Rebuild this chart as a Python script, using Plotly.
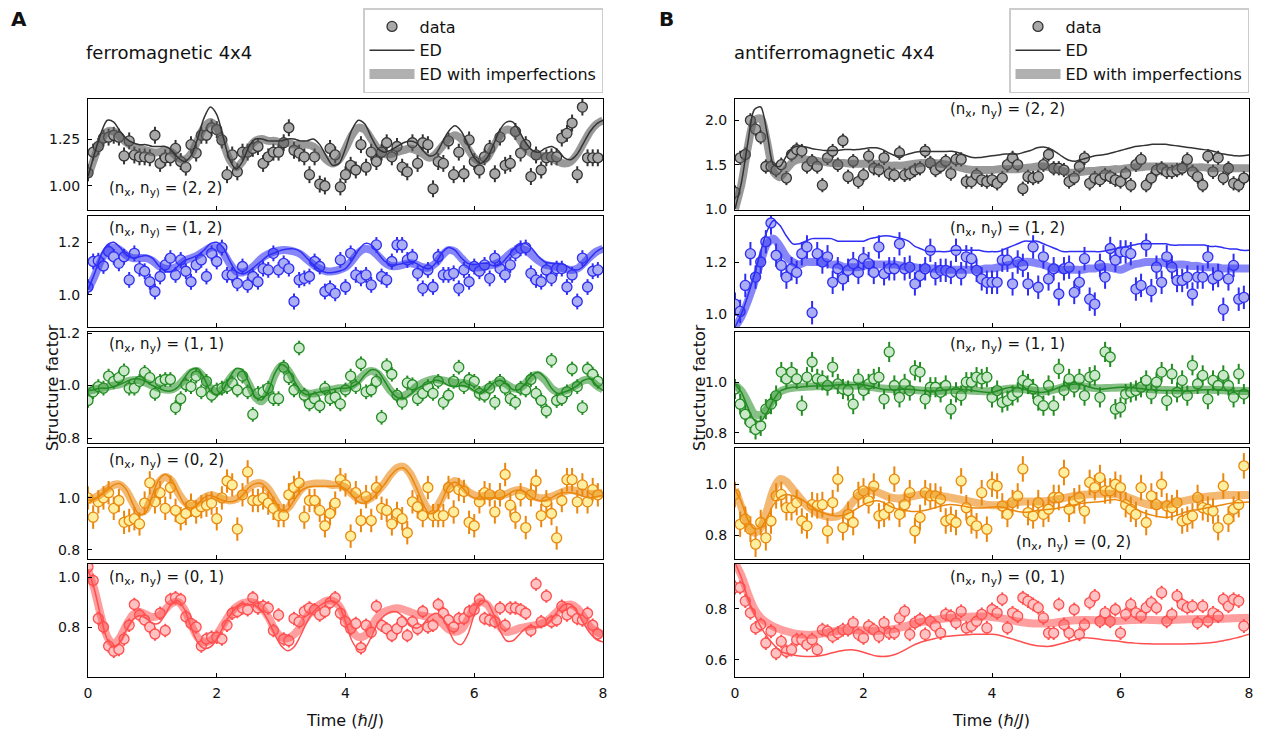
import numpy as np
import plotly.graph_objects as go

W, H = 1265, 734
OX, OY = 8, 8  # page body margin offset

# sampling times
t_data = np.round(np.arange(100) * 0.08, 2)
t_line = np.round(np.arange(81) * 0.1, 1)

# ---------------- ferromagnetic 4x4 ----------------
fm22_data = [1.07,1.18,1.21,1.255,1.26,1.27,1.26,1.16,1.24,1.165,
             1.155,1.155,1.15,1.27,1.12,1.15,1.15,1.20,1.13,1.10,
             1.22,1.175,1.27,1.27,1.31,1.30,1.245,1.06,1.165,1.075,
             1.18,1.18,1.20,1.21,1.12,1.155,1.18,1.18,1.23,1.31,
             1.19,1.175,1.155,1.06,1.155,1.01,1.00,1.20,1.165,0.995,
             1.06,1.11,1.085,1.22,1.10,1.18,1.13,1.18,1.23,1.155,
             1.21,1.10,1.075,1.23,1.12,1.23,1.22,0.985,1.13,1.12,
             1.24,1.06,1.18,1.065,1.245,1.13,1.085,1.155,1.20,1.065,
             1.26,1.11,1.12,1.29,1.175,1.22,1.05,1.165,1.085,1.15,
             1.155,1.155,1.255,1.28,1.335,1.06,1.42,1.15,1.15,1.15]
fm22_ed = [1.05,1.17,1.28,1.35,1.34,1.29,1.25,1.23,1.22,1.22,
           1.21,1.21,1.21,1.19,1.15,1.13,1.16,1.25,1.36,1.42,
           1.38,1.26,1.14,1.09,1.13,1.21,1.25,1.25,1.24,1.24,
           1.24,1.25,1.25,1.24,1.24,1.25,1.22,1.16,1.11,1.12,
           1.20,1.30,1.35,1.33,1.26,1.20,1.18,1.19,1.21,1.23,
           1.24,1.23,1.19,1.16,1.17,1.23,1.29,1.32,1.29,1.22,
           1.15,1.12,1.15,1.22,1.30,1.34,1.34,1.29,1.23,1.19,
           1.18,1.20,1.21,1.19,1.15,1.14,1.17,1.23,1.29,1.33,
           1.35]
fm22_imp = [1.05,1.15,1.24,1.29,1.29,1.26,1.23,1.21,1.20,1.19,
            1.18,1.18,1.19,1.18,1.15,1.14,1.17,1.24,1.31,1.34,
            1.31,1.23,1.14,1.10,1.13,1.20,1.24,1.25,1.24,1.24,
            1.23,1.23,1.22,1.22,1.22,1.21,1.18,1.14,1.12,1.14,
            1.20,1.27,1.31,1.30,1.25,1.20,1.17,1.17,1.18,1.19,
            1.20,1.19,1.17,1.15,1.17,1.21,1.25,1.27,1.25,1.20,
            1.15,1.13,1.15,1.21,1.27,1.30,1.29,1.25,1.20,1.17,
            1.16,1.16,1.15,1.13,1.12,1.13,1.17,1.23,1.29,1.33,
            1.35]

fm12_data = [1.03,1.127,1.13,1.11,1.165,1.145,1.12,1.145,1.057,1.158,
             1.10,1.09,1.05,1.013,1.07,1.114,1.14,1.076,1.133,1.09,
             1.05,1.114,1.133,1.07,1.158,1.127,1.18,1.076,1.076,1.044,
             1.108,1.038,1.07,1.05,1.10,1.095,1.158,1.095,1.12,1.10,
             0.975,1.057,1.063,1.07,1.127,1.108,1.013,1.025,1.006,1.133,
             1.03,1.158,1.076,1.063,1.076,1.038,1.19,1.07,1.057,1.127,
             1.19,1.19,1.133,1.145,1.082,1.025,1.095,1.03,1.145,1.076,
             1.076,1.082,1.025,1.095,1.05,1.108,1.09,1.114,1.063,1.14,
             1.10,1.076,1.114,1.158,1.177,1.18,1.082,1.057,1.05,1.095,
             1.063,1.10,1.10,1.03,1.076,0.975,1.14,1.03,1.09,1.095]
fm12_ed = [1.02,1.08,1.15,1.19,1.20,1.18,1.15,1.14,1.145,1.15,
           1.14,1.11,1.09,1.09,1.11,1.13,1.14,1.15,1.17,1.195,
           1.20,1.18,1.13,1.09,1.08,1.09,1.11,1.13,1.15,1.16,
           1.17,1.175,1.175,1.165,1.14,1.115,1.095,1.085,1.085,1.09,
           1.10,1.13,1.17,1.195,1.19,1.16,1.13,1.115,1.115,1.12,
           1.125,1.12,1.105,1.10,1.12,1.16,1.18,1.17,1.14,1.12,
           1.115,1.12,1.12,1.11,1.115,1.14,1.17,1.19,1.195,1.175,
           1.145,1.125,1.12,1.12,1.115,1.10,1.095,1.11,1.14,1.165,
           1.18]
fm12_imp = [1.02,1.07,1.13,1.17,1.18,1.17,1.15,1.14,1.14,1.14,
            1.13,1.11,1.10,1.10,1.11,1.13,1.14,1.15,1.165,1.18,
            1.18,1.16,1.12,1.09,1.085,1.095,1.115,1.14,1.155,1.165,
            1.17,1.17,1.165,1.155,1.135,1.115,1.10,1.09,1.09,1.095,
            1.105,1.13,1.16,1.175,1.17,1.15,1.125,1.11,1.11,1.115,
            1.12,1.115,1.105,1.105,1.12,1.15,1.17,1.165,1.14,1.115,
            1.105,1.105,1.11,1.115,1.125,1.145,1.165,1.175,1.17,1.15,
            1.13,1.115,1.11,1.105,1.10,1.095,1.10,1.12,1.145,1.165,
            1.175]

fm11_data = [0.943,0.976,0.996,0.99,1.036,1.016,1.03,1.056,0.99,0.99,
             1.016,1.05,1.03,0.97,1.016,1.023,1.023,0.916,0.95,1.003,
             0.996,1.036,0.976,1.016,0.963,0.983,0.99,0.996,1.01,0.983,
             1.036,0.976,0.89,0.97,0.976,0.99,0.95,0.95,1.07,1.03,
             0.983,1.143,0.963,0.93,0.95,0.923,0.99,0.95,0.956,0.93,
             0.983,1.036,0.996,1.083,0.976,0.983,1.016,0.879,1.076,1.043,
             0.963,0.936,1.01,1.003,0.95,0.97,0.996,0.97,1.016,0.936,
             0.963,1.016,1.07,0.996,1.023,1.016,0.97,0.963,0.99,0.936,
             1.016,0.99,0.95,0.936,0.99,0.983,1.023,0.97,0.943,0.903,
             1.096,0.943,0.95,0.976,1.063,0.996,0.916,1.063,1.043,1.016]
fm11_ed = [0.98,0.985,0.99,0.99,0.995,1.005,1.015,1.025,1.025,1.015,
           1.0,0.99,0.98,0.98,0.995,1.03,1.06,1.065,1.03,0.98,
           0.965,0.985,1.03,1.065,1.06,1.01,0.955,0.945,0.98,1.045,
           1.08,1.065,1.02,0.98,0.965,0.97,0.975,0.98,0.985,0.99,
           0.99,0.995,1.01,1.04,1.06,1.055,1.02,0.98,0.955,0.95,
           0.965,0.985,1.0,1.01,1.02,1.015,1.0,0.995,1.0,0.995,
           0.98,0.97,0.985,1.01,1.02,1.005,0.985,0.985,1.01,1.04,
           1.05,1.03,0.99,0.97,0.975,0.985,1.0,1.02,1.025,1.0,
           0.98]
fm11_imp = [0.98,0.985,0.99,0.995,1.0,1.005,1.015,1.02,1.02,1.01,
            1.0,0.99,0.985,0.985,1.0,1.025,1.05,1.055,1.03,0.99,
            0.975,0.99,1.025,1.05,1.045,1.005,0.955,0.94,0.975,1.04,
            1.075,1.06,1.02,0.985,0.97,0.97,0.975,0.98,0.985,0.99,
            0.99,1.0,1.02,1.045,1.055,1.045,1.015,0.98,0.96,0.96,
            0.975,0.995,1.01,1.02,1.025,1.02,1.015,1.01,1.01,1.005,
            0.99,0.98,0.99,1.005,1.015,1.005,0.99,0.99,1.01,1.035,
            1.04,1.02,0.99,0.975,0.98,0.99,1.005,1.02,1.02,1.0,
            0.985]

fm02_data = [1.0,0.926,0.985,1.0,1.02,0.96,0.99,0.906,0.913,0.92,
             0.90,0.98,1.058,0.985,1.02,0.96,1.04,0.952,0.92,0.94,
             0.972,0.946,0.966,0.972,0.98,0.92,1.0,1.065,1.05,0.88,
             1.012,1.10,0.99,0.99,1.0,0.98,0.96,0.932,0.932,1.012,
             1.04,1.058,0.926,0.99,0.99,0.952,0.893,0.94,0.98,1.07,
             1.05,0.853,1.02,0.913,1.005,0.913,1.04,0.96,0.952,0.90,
             0.94,0.92,0.866,0.985,0.966,0.932,1.04,0.932,0.932,0.932,
             1.04,0.946,1.032,1.025,0.906,0.893,0.985,1.02,1.012,0.946,
             1.012,1.09,0.972,0.926,1.012,0.886,1.012,1.065,0.932,0.985,
             0.94,0.846,0.99,1.07,1.07,0.985,1.05,0.985,1.032,1.012]
fm02_ed = [0.99,0.995,1.01,1.03,1.05,1.055,1.03,0.975,0.935,0.945,
           1.01,1.07,1.09,1.07,1.02,0.975,0.96,0.975,1.0,1.01,
           1.0,0.99,0.985,0.99,1.01,1.04,1.055,1.055,1.03,0.99,
           0.955,0.955,0.99,1.025,1.04,1.045,1.045,1.045,1.045,1.045,
           1.035,1.01,0.985,0.98,0.995,1.02,1.05,1.085,1.11,1.115,
           1.09,1.04,0.98,0.94,0.945,0.99,1.045,1.06,1.045,1.015,
           1.0,0.995,1.0,1.0,1.0,1.01,1.025,1.03,1.02,1.0,
           0.99,0.99,1.0,1.015,1.02,1.02,1.015,1.005,1.0,1.005,
           1.01]
fm02_imp = [0.99,1.0,1.015,1.035,1.05,1.05,1.025,0.98,0.945,0.955,
            1.01,1.06,1.08,1.065,1.02,0.985,0.97,0.98,1.0,1.01,
            1.005,0.995,0.99,0.995,1.015,1.04,1.055,1.055,1.035,0.995,
            0.96,0.96,0.995,1.03,1.05,1.055,1.055,1.055,1.05,1.05,
            1.04,1.015,0.995,0.99,1.0,1.025,1.055,1.09,1.115,1.12,
            1.095,1.045,0.99,0.955,0.96,1.0,1.045,1.065,1.05,1.025,
            1.01,1.005,1.01,1.01,1.01,1.015,1.025,1.03,1.025,1.01,
            1.0,1.0,1.005,1.015,1.025,1.03,1.025,1.02,1.015,1.015,
            1.02]

fm01_data = [1.04,0.986,0.834,0.80,0.724,0.703,0.71,0.752,0.807,0.89,
             0.848,0.828,0.80,0.772,0.855,0.786,0.91,0.917,0.91,0.841,
             0.814,0.80,0.724,0.752,0.759,0.759,0.752,0.807,0.855,0.862,
             0.876,0.869,0.917,0.876,0.883,0.876,0.786,0.848,0.752,0.745,
             0.834,0.821,0.862,0.876,0.869,0.848,0.862,0.897,0.917,0.855,
             0.821,0.793,0.814,0.717,0.807,0.779,0.883,0.807,0.793,0.766,
             0.793,0.821,0.766,0.821,0.793,0.862,0.80,0.807,0.89,0.855,
             0.828,0.80,0.834,0.834,0.862,0.869,0.91,0.834,0.828,0.821,
             0.876,0.807,0.876,0.876,0.869,0.855,0.786,0.972,0.821,0.924,
             0.821,0.828,0.883,0.848,0.862,0.834,0.828,0.855,0.807,0.772]
fm01_ed = [1.03,0.95,0.84,0.75,0.72,0.74,0.79,0.83,0.845,0.835,
           0.815,0.815,0.85,0.895,0.905,0.87,0.80,0.74,0.715,0.72,
           0.75,0.80,0.845,0.875,0.89,0.89,0.885,0.865,0.825,0.77,
           0.725,0.705,0.72,0.765,0.82,0.86,0.885,0.90,0.905,0.885,
           0.82,0.745,0.71,0.715,0.76,0.815,0.845,0.86,0.86,0.84,
           0.81,0.795,0.81,0.84,0.855,0.84,0.79,0.74,0.73,0.77,
           0.85,0.905,0.90,0.85,0.785,0.745,0.745,0.77,0.795,0.80,
           0.80,0.805,0.83,0.865,0.89,0.89,0.86,0.815,0.775,0.75,
           0.74]
fm01_imp = [1.03,0.95,0.845,0.76,0.73,0.76,0.81,0.85,0.86,0.85,
            0.84,0.845,0.87,0.895,0.90,0.87,0.81,0.76,0.74,0.745,
            0.77,0.81,0.85,0.88,0.895,0.90,0.895,0.875,0.84,0.79,
            0.76,0.755,0.77,0.80,0.84,0.87,0.89,0.905,0.905,0.885,
            0.835,0.785,0.76,0.765,0.80,0.84,0.86,0.87,0.875,0.87,
            0.86,0.85,0.845,0.84,0.835,0.815,0.79,0.78,0.79,0.83,
            0.88,0.90,0.89,0.85,0.80,0.78,0.785,0.795,0.80,0.805,
            0.81,0.82,0.84,0.865,0.885,0.89,0.875,0.84,0.80,0.78,
            0.77]

# ---------------- antiferromagnetic 4x4 ----------------
afm22_data = [1.19,1.577,1.615,2.0,1.90,1.81,1.48,1.48,1.44,1.50,
              1.35,1.615,1.67,1.654,1.48,1.54,1.48,1.27,1.577,1.654,
              1.50,1.77,1.365,1.54,1.31,1.385,1.596,1.46,1.44,1.577,
              1.40,1.385,1.635,1.385,1.40,1.44,1.46,1.654,1.52,1.44,
              1.48,1.54,1.40,1.56,1.56,1.31,1.31,1.385,1.33,1.31,
              1.33,1.29,1.35,1.50,1.577,1.50,1.23,1.365,1.35,1.365,
              1.50,1.615,1.46,1.46,1.44,1.31,1.35,1.48,1.577,1.29,
              1.35,1.33,1.385,1.365,1.33,1.31,1.40,1.27,1.50,1.56,
              1.27,1.35,1.44,1.46,1.42,1.42,1.44,1.46,1.56,1.42,
              1.365,1.27,1.596,1.42,1.577,1.35,1.46,1.29,1.27,1.35]
afm22_ed = [1.00,1.30,1.75,2.12,2.15,1.85,1.50,1.48,1.60,1.69,
            1.71,1.70,1.68,1.67,1.66,1.66,1.66,1.67,1.67,1.67,
            1.68,1.69,1.69,1.67,1.63,1.60,1.60,1.62,1.64,1.65,
            1.65,1.65,1.65,1.65,1.65,1.63,1.60,1.58,1.58,1.59,
            1.60,1.61,1.62,1.62,1.62,1.64,1.66,1.69,1.70,1.68,
            1.64,1.59,1.55,1.54,1.56,1.58,1.60,1.61,1.62,1.64,
            1.66,1.68,1.70,1.71,1.72,1.73,1.73,1.73,1.72,1.71,
            1.70,1.69,1.68,1.67,1.66,1.64,1.62,1.61,1.60,1.60,
            1.61]
afm22_imp = [1.00,1.28,1.70,2.00,2.02,1.75,1.42,1.36,1.45,1.53,
             1.56,1.56,1.55,1.54,1.53,1.52,1.52,1.52,1.51,1.51,
             1.51,1.51,1.51,1.50,1.49,1.49,1.49,1.50,1.51,1.52,
             1.52,1.52,1.51,1.50,1.49,1.47,1.45,1.44,1.44,1.44,
             1.44,1.45,1.45,1.45,1.45,1.46,1.47,1.48,1.48,1.47,
             1.45,1.43,1.41,1.41,1.42,1.43,1.43,1.44,1.44,1.45,
             1.45,1.46,1.47,1.47,1.48,1.48,1.48,1.48,1.48,1.48,
             1.47,1.47,1.47,1.47,1.46,1.46,1.46,1.46,1.46,1.46,
             1.46]

afm12_data = [1.038,1.01,1.11,1.232,1.142,1.20,1.278,1.35,1.226,1.187,
              1.142,1.174,1.16,1.232,1.258,1.005,1.232,1.20,1.22,1.122,
              1.174,1.135,1.168,1.194,1.16,1.213,1.194,1.16,1.258,1.155,
              1.174,1.174,1.27,1.174,1.18,1.116,1.148,1.174,1.245,1.155,
              1.168,1.168,1.16,1.245,1.155,1.22,1.213,1.168,1.135,1.122,
              1.122,1.122,1.207,1.207,1.116,1.20,1.187,1.116,1.258,1.103,
              1.22,1.135,1.174,1.077,1.174,1.18,1.083,1.122,1.213,1.057,
              1.038,1.187,1.142,1.252,1.207,1.239,1.239,1.232,1.096,1.11,
              1.265,1.09,1.18,1.122,1.22,1.18,1.129,1.129,1.142,1.077,
              1.142,1.142,1.22,1.135,1.148,1.018,1.135,1.187,1.057,1.064]
afm12_ed = [0.95,1.00,1.07,1.15,1.24,1.32,1.36,1.34,1.30,1.27,
            1.27,1.28,1.29,1.29,1.29,1.29,1.28,1.28,1.28,1.28,
            1.28,1.29,1.295,1.30,1.30,1.295,1.29,1.28,1.26,1.25,
            1.24,1.24,1.24,1.24,1.245,1.245,1.245,1.245,1.245,1.24,
            1.24,1.24,1.25,1.26,1.27,1.28,1.28,1.28,1.27,1.26,
            1.25,1.24,1.24,1.24,1.24,1.24,1.24,1.24,1.245,1.25,
            1.255,1.26,1.265,1.27,1.27,1.27,1.27,1.27,1.265,1.265,
            1.265,1.265,1.265,1.265,1.26,1.26,1.255,1.25,1.25,1.245,
            1.245]
afm12_imp = [0.95,0.99,1.05,1.12,1.20,1.27,1.29,1.26,1.22,1.20,
             1.19,1.20,1.20,1.20,1.20,1.19,1.19,1.18,1.18,1.18,
             1.185,1.19,1.19,1.19,1.19,1.19,1.185,1.18,1.18,1.175,
             1.175,1.175,1.17,1.17,1.17,1.17,1.17,1.17,1.17,1.175,
             1.175,1.18,1.185,1.19,1.195,1.20,1.20,1.195,1.19,1.18,
             1.175,1.17,1.17,1.17,1.17,1.175,1.175,1.18,1.18,1.175,
             1.17,1.18,1.19,1.195,1.20,1.20,1.20,1.195,1.19,1.19,
             1.19,1.185,1.185,1.18,1.18,1.18,1.175,1.175,1.175,1.175,
             1.175]

afm11_data = [0.973,0.913,0.873,0.84,0.813,0.827,0.893,0.913,0.947,1.04,
              1.013,1.04,1.013,0.907,1.02,1.08,1.013,1.007,0.987,1.06,
              0.993,0.973,0.967,0.913,1.013,0.967,0.993,1.013,1.02,0.933,
              1.12,0.987,0.94,0.993,0.967,1.047,1.04,0.933,0.98,0.98,
              0.96,0.987,0.893,0.96,0.947,1.0,1.0,1.02,1.013,1.02,
              0.94,0.967,0.92,0.927,0.947,0.96,1.007,0.993,0.973,0.927,
              0.907,0.987,0.907,1.053,0.967,1.013,0.98,1.013,0.947,1.02,
              1.027,0.94,1.12,1.10,0.893,0.90,0.953,0.96,0.967,0.98,
              1.007,0.953,1.0,1.04,0.927,1.033,0.96,1.007,0.947,1.067,
              0.993,1.027,0.933,1.007,0.987,1.027,0.987,0.94,1.033,0.953]
afm11_ed = [0.99,0.96,0.90,0.85,0.845,0.88,0.93,0.965,0.975,0.98,
            0.98,0.983,0.985,0.985,0.985,0.987,0.99,0.99,0.99,0.99,
            0.99,0.985,0.978,0.972,0.97,0.97,0.972,0.972,0.97,0.967,
            0.965,0.965,0.967,0.97,0.972,0.972,0.97,0.967,0.963,0.96,
            0.96,0.967,0.975,0.98,0.978,0.972,0.965,0.96,0.96,0.965,
            0.975,0.985,0.99,0.993,0.99,0.982,0.975,0.972,0.975,0.978,
            0.98,0.98,0.978,0.975,0.972,0.97,0.968,0.967,0.967,0.966,
            0.965,0.966,0.968,0.97,0.97,0.97,0.968,0.966,0.965,0.965,
            0.965]
afm11_imp = [0.99,0.965,0.92,0.875,0.87,0.895,0.935,0.962,0.973,0.978,
             0.98,0.982,0.983,0.984,0.985,0.986,0.987,0.987,0.987,0.986,
             0.985,0.982,0.978,0.975,0.973,0.972,0.972,0.971,0.969,0.967,
             0.965,0.965,0.966,0.968,0.969,0.969,0.968,0.966,0.965,0.964,
             0.965,0.968,0.972,0.975,0.975,0.972,0.968,0.965,0.964,0.967,
             0.973,0.98,0.985,0.987,0.985,0.98,0.977,0.976,0.977,0.978,
             0.979,0.979,0.978,0.976,0.974,0.972,0.97,0.969,0.968,0.968,
             0.968,0.969,0.97,0.97,0.97,0.969,0.968,0.967,0.966,0.965,
             0.965]

afm02_data = [0.96,0.843,0.863,0.824,0.765,0.85,0.79,0.856,0.954,0.96,
              0.908,0.908,0.928,0.856,0.837,0.92,0.915,0.92,0.817,0.928,
              1.02,0.83,0.882,0.85,0.96,0.974,0.935,0.993,0.876,0.882,
              0.908,1.02,0.882,0.92,0.967,0.817,0.87,0.967,0.954,0.954,
              0.941,0.856,0.863,0.85,1.013,0.908,0.856,0.837,0.967,0.824,
              1.0,0.993,0.915,0.882,0.928,0.954,1.06,0.889,0.876,0.928,
              0.882,0.902,0.948,0.948,1.046,0.902,0.935,0.948,0.895,1.007,
              0.987,1.026,0.974,0.974,1.0,0.987,0.92,0.902,0.882,0.987,
              0.85,0.954,0.92,1.0,0.915,0.908,0.928,0.856,0.863,0.876,
              0.948,0.908,0.902,0.895,0.83,0.993,0.863,0.902,0.92,1.072]
afm02_ed = [0.98,0.93,0.86,0.825,0.83,0.87,0.92,0.95,0.96,0.955,
            0.945,0.93,0.91,0.895,0.885,0.878,0.876,0.88,0.89,0.905,
            0.92,0.93,0.935,0.93,0.915,0.905,0.90,0.895,0.893,0.895,
            0.90,0.907,0.915,0.92,0.92,0.917,0.912,0.908,0.907,0.908,
            0.91,0.912,0.908,0.90,0.893,0.89,0.892,0.897,0.90,0.902,
            0.905,0.91,0.915,0.92,0.925,0.928,0.93,0.932,0.937,0.94,
            0.935,0.925,0.91,0.895,0.885,0.878,0.873,0.87,0.873,0.88,
            0.89,0.897,0.90,0.905,0.91,0.915,0.92,0.925,0.927,0.928,
            0.93]
afm02_imp = [0.98,0.91,0.84,0.81,0.83,0.90,0.98,1.02,1.01,0.98,
             0.95,0.92,0.90,0.885,0.875,0.872,0.875,0.89,0.92,0.95,
             0.97,0.975,0.97,0.96,0.95,0.945,0.945,0.95,0.955,0.96,
             0.96,0.96,0.955,0.95,0.945,0.94,0.935,0.93,0.925,0.92,
             0.918,0.918,0.92,0.925,0.93,0.932,0.932,0.932,0.933,0.935,
             0.94,0.945,0.95,0.955,0.958,0.96,0.962,0.963,0.963,0.962,
             0.958,0.95,0.94,0.93,0.922,0.918,0.918,0.92,0.925,0.93,
             0.935,0.94,0.945,0.95,0.953,0.955,0.957,0.958,0.958,0.958,
             0.958]

afm01_data = [0.883,0.883,0.83,0.784,0.725,0.738,0.666,0.712,0.626,0.672,
              0.633,0.64,0.679,0.679,0.66,0.679,0.64,0.718,0.712,0.692,
              0.705,0.718,0.718,0.745,0.70,0.686,0.732,0.718,0.692,0.745,
              0.705,0.705,0.764,0.79,0.70,0.745,0.758,0.70,0.751,0.732,
              0.705,0.778,0.771,0.745,0.79,0.725,0.732,0.751,0.778,0.725,
              0.797,0.784,0.837,0.725,0.784,0.771,0.843,0.83,0.817,0.804,
              0.764,0.705,0.705,0.817,0.738,0.705,0.797,0.70,0.738,0.824,
              0.85,0.751,0.784,0.751,0.797,0.705,0.778,0.817,0.784,0.771,
              0.804,0.824,0.804,0.863,0.751,0.778,0.85,0.817,0.804,0.81,
              0.745,0.81,0.751,0.784,0.771,0.837,0.81,0.837,0.83,0.732]
afm01_ed = [0.98,0.92,0.84,0.78,0.73,0.69,0.66,0.635,0.625,0.62,
            0.615,0.613,0.613,0.615,0.62,0.627,0.633,0.638,0.64,0.637,
            0.63,0.622,0.615,0.613,0.615,0.622,0.633,0.647,0.66,0.67,
            0.677,0.683,0.688,0.692,0.694,0.696,0.698,0.70,0.70,0.70,
            0.70,0.697,0.69,0.683,0.675,0.667,0.66,0.655,0.653,0.653,
            0.658,0.665,0.673,0.68,0.686,0.686,0.684,0.68,0.677,0.675,
            0.672,0.668,0.666,0.664,0.663,0.662,0.662,0.662,0.662,0.662,
            0.662,0.663,0.664,0.665,0.667,0.67,0.675,0.68,0.686,0.693,
            0.70]
afm01_imp = [0.98,0.93,0.86,0.80,0.765,0.745,0.73,0.72,0.712,0.705,
             0.70,0.698,0.698,0.70,0.705,0.71,0.714,0.716,0.717,0.716,
             0.715,0.714,0.714,0.715,0.718,0.722,0.728,0.735,0.742,0.748,
             0.752,0.756,0.76,0.763,0.765,0.767,0.768,0.77,0.77,0.77,
             0.768,0.765,0.76,0.755,0.75,0.746,0.743,0.742,0.742,0.743,
             0.746,0.75,0.753,0.755,0.756,0.756,0.755,0.753,0.752,0.752,
             0.753,0.755,0.756,0.757,0.757,0.756,0.755,0.755,0.756,0.757,
             0.758,0.759,0.76,0.76,0.76,0.76,0.761,0.762,0.763,0.764,
             0.765]

# error bar half-heights per panel
fm_err = [0.045, 0.03, 0.028, 0.045, 0.027]
afm_err = [0.08, 0.045, 0.04, 0.05, 0.027]

labels = ["(n<sub>x</sub>, n<sub>y)</sub> = (2, 2)", "(n<sub>x</sub>, n<sub>y)</sub> = (1, 2)",
          "(n<sub>x</sub>, n<sub>y</sub>) = (1, 1)", "(n<sub>x</sub>, n<sub>y</sub>) = (0, 2)",
          "(n<sub>x</sub>, n<sub>y</sub>) = (0, 1)"]
afm_labels = ["(n<sub>x</sub>, n<sub>y</sub>) = (2, 2)", "(n<sub>x</sub>, n<sub>y</sub>) = (1, 2)",
              "(n<sub>x</sub>, n<sub>y</sub>) = (1, 1)", "(n<sub>x</sub>, n<sub>y</sub>) = (0, 2)",
              "(n<sub>x</sub>, n<sub>y</sub>) = (0, 1)"]

fm_sets = [(fm22_data, fm22_ed, fm22_imp), (fm12_data, fm12_ed, fm12_imp),
           (fm11_data, fm11_ed, fm11_imp), (fm02_data, fm02_ed, fm02_imp),
           (fm01_data, fm01_ed, fm01_imp)]
afm_sets = [(afm22_data, afm22_ed, afm22_imp), (afm12_data, afm12_ed, afm12_imp),
            (afm11_data, afm11_ed, afm11_imp), (afm02_data, afm02_ed, afm02_imp),
            (afm01_data, afm01_ed, afm01_imp)]

# styling
colors = [
    dict(line="#333333", fill="#a8a8a8", band="rgba(90,90,90,0.62)"),
    dict(line="#2e2ef5", fill="#abaef2", band="rgba(46,46,245,0.58)"),
    dict(line="#238c23", fill="#cbe8cb", band="rgba(35,140,35,0.55)"),
    dict(line="#ea870c", fill="#fdef9f", band="rgba(234,135,12,0.58)"),
    dict(line="#ff4f4f", fill="#ffc2c2", band="rgba(255,79,79,0.55)"),
]
fm_range = [[0.872, 1.463], [0.878, 1.30], [0.781, 1.204], [0.765, 1.192], [0.60, 1.052]]
afm_range = [[0.99, 2.24], [0.95, 1.377], [0.759, 1.199], [0.707, 1.142], [0.533, 0.975]]
fm_ticks = [[1.0, 1.25], [1.0, 1.2], [0.8, 1.0, 1.2], [0.8, 1.0], [0.8, 1.0]]
afm_ticks = [[1.0, 1.5, 2.0], [1.0, 1.2], [0.8, 1.0], [0.8, 1.0], [0.6, 0.8]]
rows_px = [(99, 210), (216, 327), (332, 443), (448, 559), (564, 677)]
cols_px = [(88, 603), (735, 1249)]

FONT = "DejaVu Sans, Verdana, sans-serif"


def fx(px):
    return (px - OX) / W


def fy(py):
    return 1 - (py - OY) / H


fig = go.Figure()
layout = dict(width=W, height=H, margin=dict(l=0, r=0, t=0, b=0, pad=0, autoexpand=False),
              paper_bgcolor="white", plot_bgcolor="white",
              font=dict(family=FONT, size=14, color="#111111"))
annotations = []

k = 0
for col, sets in enumerate([fm_sets, afm_sets]):
    for row in range(5):
        k += 1
        data, ed, imp = sets[row]
        c = colors[row]
        err = (fm_err if col == 0 else afm_err)[row]
        xa = "x" if k == 1 else f"x{k}"
        ya = "y" if k == 1 else f"y{k}"
        fig.add_trace(go.Scatter(
            x=t_data, y=data, mode="markers", xaxis=xa, yaxis=ya, showlegend=False,
            marker=dict(size=10, color=c["fill"], line=dict(color=c["line"], width=1.3)),
            error_y=dict(type="constant", value=err, color=c["line"], thickness=2, width=0)))
        fig.add_trace(go.Scatter(
            x=t_line, y=imp, mode="lines", xaxis=xa, yaxis=ya, showlegend=False,
            line=dict(color=c["band"], width=8, shape="spline", smoothing=0.8)))
        fig.add_trace(go.Scatter(
            x=t_line, y=ed, mode="lines", xaxis=xa, yaxis=ya, showlegend=False,
            line=dict(color=c["line"], width=1.5, shape="spline", smoothing=0.8)))

        x0, x1 = cols_px[col]
        top, bot = rows_px[row]
        rng = (fm_range if col == 0 else afm_range)[row]
        tv = (fm_ticks if col == 0 else afm_ticks)[row]
        axis_common = dict(showline=True, mirror=True, linecolor="black", linewidth=1,
                           showgrid=False, zeroline=False, ticks="inside", ticklen=4,
                           tickcolor="black", automargin=False,
                           tickfont=dict(size=14, family=FONT, color="#111111"))
        layout["xaxis" if k == 1 else f"xaxis{k}"] = dict(
            domain=[fx(x0), fx(x1)], range=[0, 8], tickvals=[0, 2, 4, 6, 8],
            showticklabels=(row == 4), anchor=ya, ticklabelstandoff=3, **axis_common)
        layout["yaxis" if k == 1 else f"yaxis{k}"] = dict(
            domain=[fy(bot), fy(top)], range=rng, tickvals=tv,
            tickformat=".2f" if (col == 0 and row == 0) else ".1f",
            anchor=xa, ticklabelstandoff=4, **axis_common)

# legend entries (one legend per column)
for leg in ["legend", "legend2"]:
    fig.add_trace(go.Scatter(x=[None], y=[None], mode="markers", name="data", legend=leg,
                             marker=dict(size=10, color="#a8a8a8", line=dict(color="#333333", width=1.3))))
    fig.add_trace(go.Scatter(x=[None], y=[None], mode="lines", name="ED", legend=leg,
                             line=dict(color="#333333", width=1.5)))
    fig.add_trace(go.Scatter(x=[None], y=[None], mode="lines", name="ED with imperfections",
                             legend=leg, line=dict(color="rgba(150,150,150,0.75)", width=10)))

leg_style = dict(yanchor="top", xanchor="right", y=fy(8), bgcolor="white",
                 bordercolor="#cccccc", borderwidth=1.5, font=dict(size=16, family=FONT),
                 tracegroupgap=0, itemwidth=45)
layout["legend"] = dict(x=fx(603), **leg_style)
layout["legend2"] = dict(x=fx(1249), **leg_style)


def ann(text, px, py, size=16, xanchor="left", bold=False, angle=0):
    annotations.append(dict(text=f"<b>{text}</b>" if bold else text, x=fx(px), y=fy(py),
                            xref="paper", yref="paper", showarrow=False, xanchor=xanchor,
                            yanchor="middle", textangle=angle,
                            font=dict(size=size, family=FONT, color="#111111")))


ann("A", 19, 19, size=20, bold=True, xanchor="center")
ann("B", 666, 19, size=20, bold=True, xanchor="center")
ann("ferromagnetic 4x4", 84, 53, size=18)
ann("antiferromagnetic 4x4", 732, 53, size=18)
ann("Structure factor", 52, 388, size=16, xanchor="center", angle=-90)
ann("Structure factor", 699, 388, size=16, xanchor="center", angle=-90)
ann("Time (<i>ℏ</i>/<i>J</i>)", 345, 720, size=16, xanchor="center")
ann("Time (<i>ℏ</i>/<i>J</i>)", 991, 720, size=16, xanchor="center")

fm_label_pos = [(107, 188), (107, 228), (107, 345), (107, 461), (107, 577)]
afm_label_pos = [(1007, 110), (1007, 228), (1007, 345), (1073, 542), (1007, 577)]
for i in range(5):
    ann(labels[i], fm_label_pos[i][0], fm_label_pos[i][1], size=15)
    ann(afm_labels[i], afm_label_pos[i][0], afm_label_pos[i][1], size=15, xanchor="center")

layout["annotations"] = annotations
fig.update_layout(**layout)
fig.write_html("out.html")
